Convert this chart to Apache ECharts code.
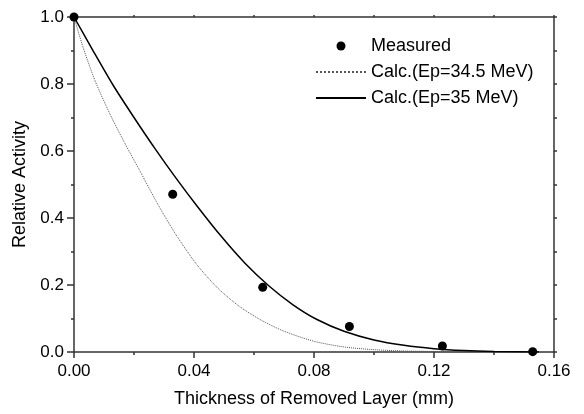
<!DOCTYPE html>
<html>
<head>
<meta charset="utf-8">
<script src="https://cdn.jsdelivr.net/npm/echarts@6/dist/echarts.min.js"></script>
<style>html,body{margin:0;padding:0;background:#fff}#c{width:584px;height:414px}</style>
</head>
<body>
<div id="c"></div>
<script>
// Measured points
var measuredX = [0, 0.0329, 0.0629, 0.0918, 0.1228, 0.1529];
var measuredY = [1.0, 0.471, 0.193, 0.076, 0.018, 0.001];
// Calc. Ep=34.5 MeV (dotted)
var calc345X = [0, 0.003, 0.007, 0.012, 0.017, 0.022, 0.028, 0.034, 0.041, 0.048, 0.055, 0.062, 0.07, 0.08, 0.09, 0.1, 0.11, 0.125, 0.155];
var calc345Y = [1.0, 0.91, 0.81, 0.71, 0.622, 0.540, 0.440, 0.350, 0.260, 0.190, 0.137, 0.097, 0.062, 0.032, 0.015, 0.007, 0.003, 0.001, 0.0];
// Calc. Ep=35 MeV (solid)
var calc35X = [0, 0.006, 0.013, 0.02, 0.027, 0.034, 0.041, 0.049, 0.057, 0.065, 0.073, 0.081, 0.09, 0.1, 0.11, 0.12, 0.13, 0.14, 0.155];
var calc35Y = [1.0, 0.905, 0.797, 0.700, 0.607, 0.519, 0.436, 0.346, 0.265, 0.197, 0.141, 0.097, 0.062, 0.036, 0.020, 0.010, 0.0045, 0.0018, 0.0];
// Axis ticks
var xTicks = [0, 0.04, 0.08, 0.12, 0.16];
var yTicks = [0, 0.2, 0.4, 0.6, 0.8, 1.0];
var seriesNames = ['Measured', 'Calc.(Ep=34.5 MeV)', 'Calc.(Ep=35 MeV)'];
var xName = 'Thickness of Removed Layer (mm)';
var yName = 'Relative Activity';

function zip(a, b) { return a.map(function (v, i) { return [v, b[i]]; }); }

var FONT = 'Arial, "Liberation Sans", sans-serif';
var AX = '#333333';
var chart = echarts.init(document.getElementById('c'), null, {renderer: 'canvas'});
chart.setOption({
  animation: false,
  backgroundColor: '#fff',
  textStyle: {fontFamily: FONT},
  grid: {left: 74, right: 30, top: 17, bottom: 62, containLabel: false},
  legend: {
    orient: 'vertical', left: 315, top: 37, padding: 0, itemWidth: 50, itemHeight: 9, itemGap: 8,
    textStyle: {fontSize: 18, color: '#000', fontFamily: FONT},
    data: [
      {name: seriesNames[0], icon: 'circle'},
      {name: seriesNames[1], itemStyle: {opacity: 0}},
      {name: seriesNames[2], itemStyle: {opacity: 0}}
    ]
  },
  xAxis: [{
    type: 'value', min: xTicks[0], max: xTicks[xTicks.length - 1], interval: 0.04,
    position: 'bottom',
    name: xName, nameLocation: 'middle', nameGap: 38,
    nameTextStyle: {fontSize: 18, color: '#000', fontFamily: FONT},
    axisLine: {show: true, onZero: false, lineStyle: {color: AX, width: 1.5}},
    axisTick: {show: true, inside: false, length: 6, lineStyle: {color: AX, width: 1.5}},
    minorTick: {show: true, splitNumber: 2, length: 3, lineStyle: {color: AX, width: 1.5}},
    axisLabel: {fontSize: 17, color: '#000', margin: 11, fontFamily: FONT,
      formatter: function (v) { return v.toFixed(2); }},
    splitLine: {show: false}
  }, {
    type: 'value', min: xTicks[0], max: xTicks[xTicks.length - 1], interval: 0.02,
    position: 'top',
    axisLine: {show: true, onZero: false, lineStyle: {color: AX, width: 1.5}},
    axisTick: {show: true, inside: false, length: 2, lineStyle: {color: AX, width: 1.5}},
    axisLabel: {show: false}, splitLine: {show: false}
  }],
  yAxis: [{
    type: 'value', min: yTicks[0], max: yTicks[yTicks.length - 1], interval: 0.2,
    position: 'left',
    name: yName, nameLocation: 'middle', nameGap: 43, nameRotate: 90,
    nameTextStyle: {fontSize: 18, color: '#000', fontFamily: FONT},
    axisLine: {show: true, onZero: false, lineStyle: {color: AX, width: 1.5}},
    axisTick: {show: true, inside: false, length: 7, lineStyle: {color: AX, width: 1.5}},
    minorTick: {show: true, splitNumber: 2, length: 3, lineStyle: {color: AX, width: 1.5}},
    axisLabel: {fontSize: 17, color: '#000', margin: 10, fontFamily: FONT,
      formatter: function (v) { return v.toFixed(1); }},
    splitLine: {show: false}
  }, {
    type: 'value', min: yTicks[0], max: yTicks[yTicks.length - 1], interval: 0.1,
    position: 'right',
    axisLine: {show: true, onZero: false, lineStyle: {color: AX, width: 1.5}},
    axisTick: {show: true, inside: false, length: 3, lineStyle: {color: AX, width: 1.5}},
    axisLabel: {show: false}, splitLine: {show: false}
  }],
  series: [{
    name: seriesNames[1], type: 'line', data: zip(calc345X, calc345Y),
    symbol: 'none', smooth: 0.25, z: 2,
    lineStyle: {color: '#555', width: 1, type: 'dotted'},
    itemStyle: {color: '#555'}
  }, {
    name: seriesNames[2], type: 'line', data: zip(calc35X, calc35Y),
    symbol: 'none', smooth: 0.25, z: 3,
    lineStyle: {color: '#000', width: 1.5, type: 'solid'},
    itemStyle: {color: '#000'}
  }, {
    name: seriesNames[0], type: 'scatter', data: zip(measuredX, measuredY),
    symbol: 'circle', symbolSize: 9, z: 5,
    itemStyle: {color: '#000', opacity: 1}
  }]
});
</script>
</body>
</html>
